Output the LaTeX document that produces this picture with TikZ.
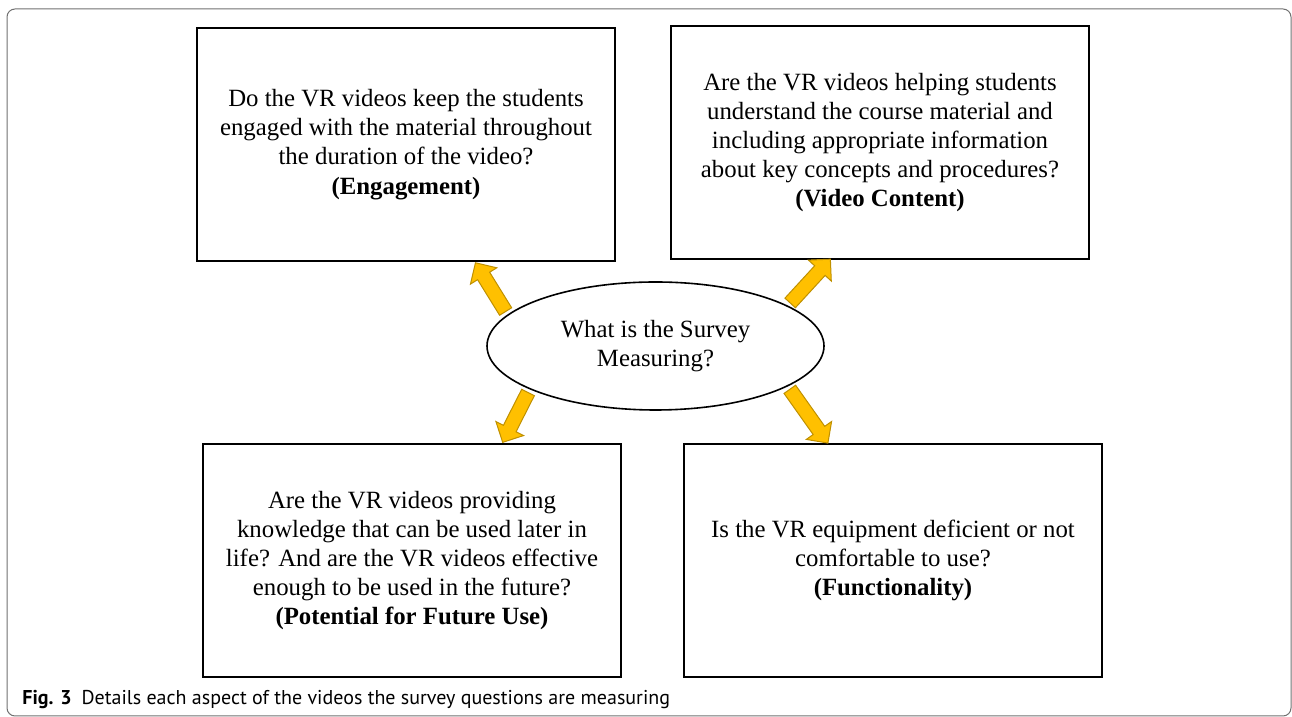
\documentclass[tikz,border=0pt]{standalone}
\usepackage{fontspec}
\setmainfont{Liberation Serif}
\newfontfamily\capfont{PT Sans}
\usetikzlibrary{shapes.geometric, shapes.arrows, calc, positioning}
\definecolor{arrowgold}{HTML}{FFC000}
\definecolor{arrowedge}{HTML}{BF9000}
\definecolor{framegray}{HTML}{707070}

\begin{document}
\begin{tikzpicture}[
    x=0.5pt, y=0.5pt,
    qbox/.style={rectangle, draw, line width=0.8pt, minimum width=209pt, minimum height=116.5pt, inner sep=0pt, align=center, font=\fontsize{12.4}{14.6}\selectfont},
    hub/.style={ellipse, draw, line width=0.8pt, minimum width=168.5pt, minimum height=64pt, inner sep=0pt, align=center, font=\fontsize{12.4}{14.6}\selectfont},
    blockarrow/.style={single arrow, draw=arrowedge, fill=arrowgold, line width=0.5pt, inner xsep=0pt, inner ysep=3.3pt, single arrow head extend=4.2pt}
]
    \useasboundingbox (0,0) rectangle (1292,717);
    \draw[framegray, line width=0.5pt, rounded corners=4pt] (7,1) rectangle (1291,708);

    % survey aspects
    \node[qbox] (eng) at (406,572.5) {Do the VR videos keep the students\\engaged with the material throughout\\the duration of the video?\\\textbf{(Engagement)}};
    \node[qbox] (cont) at (880,574.5) {Are the VR videos helping students\\understand the course material and\\including appropriate information\\about key concepts and procedures?\\\textbf{(Video Content)}};
    \node[qbox] (fut) at (412,156.5) {Are the VR videos providing\\knowledge that can be used later in\\life? And are the VR videos effective\\enough to be used in the future?\\\textbf{(Potential for Future Use)}};
    \node[qbox] (func) at (893,156.5) {Is the VR equipment deficient or not\\comfortable to use?\\\textbf{(Functionality)}};

    \node[hub] (survey) at (655.5,371) {What is the Survey\\Measuring?};

    % arrow tips
    \coordinate (t1) at ($(eng.south west)!0.67!(eng.south east)+(0,-4)$);
    \coordinate (t2) at ($(cont.south west)!0.376!(cont.south east)+(0,-2)$);
    \coordinate (t3) at ($(fut.north west)!0.72!(fut.north east)+(0,4)$);
    \coordinate (t4) at ($(func.north west)!0.34!(func.north east)+(0,3)$);

    \foreach \from/\to in {168/t1, 17/t2, 199/t3, 343/t4}
        \path let \p1=($(\to)-(survey.\from)$), \n1={veclen(\x1,\y1)}, \n2={atan2(\y1,\x1)} in
            node[blockarrow, minimum height=\n1, rotate=\n2] at ($(survey.\from)!0.5!(\to)$) {};

    \node[anchor=base west, inner sep=0pt, font=\capfont\fontsize{10}{12}\selectfont] (cap) at (22,12)
        {\textbf{Fig. 3}\hspace{0.5em}Details each aspect of the videos the survey questions are measuring};
\end{tikzpicture}
\end{document}
